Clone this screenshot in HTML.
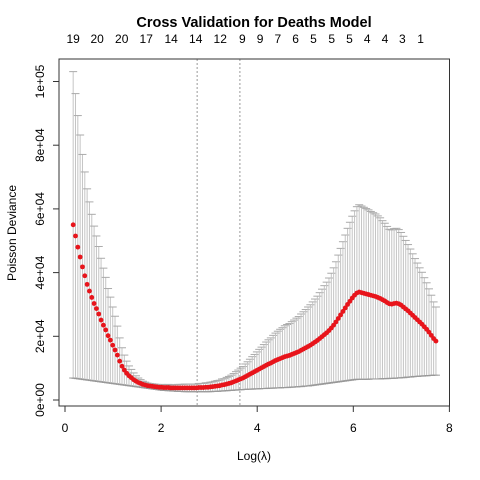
<!DOCTYPE html>
<html><head><meta charset="utf-8">
<style>
html,body{margin:0;padding:0;background:#fff;}
svg{display:block;font-family:"Liberation Sans",sans-serif;}
</style></head>
<body>
<svg id="chart" width="480" height="480" viewBox="0 0 480 480" xmlns="http://www.w3.org/2000/svg">
<text x="254" y="27" text-anchor="middle" font-weight="bold" font-size="14.5">Cross Validation for Deaths Model</text>
<text x="254" y="460" text-anchor="middle" font-size="12">Log(λ)</text>
<text transform="translate(16,233) rotate(-90)" text-anchor="middle" font-size="12">Poisson Deviance</text>
<g id="marks"></g>
<rect x="59" y="59" width="390.5" height="347" fill="none" stroke="#333" stroke-width="1"/>
</svg>
<script>
const xStart = 0.17, xEnd = 7.72;
const meanK = [55,51.5,48,44.9,41.8,39,36.3,34.2,32.2,30.3,28.7,27,25.1,23.5,22,20.2,18.8,17.2,15.7,14.1,12.2,10.6,9.4,8.4,7.6,7.0,6.4,5.9,5.5,5.2,4.9,4.7,4.5,4.4,4.3,4.2,
4.1,4.0,4.0,3.9,3.9,3.9,3.8,3.8,3.8,3.8,3.8,3.8,3.8,3.8,3.8,3.8,3.8,3.8,3.9,3.9,3.9,4.0,4.0,4.1,4.2,
4.3,4.4,4.5,4.7,4.8,5.0,5.2,5.4,5.7,6.0,6.3,6.6,6.9,7.3,7.7,8.1,8.5,8.9,9.3,9.7,10.1,10.5,10.9,11.3,11.6,12.0,12.4,12.7,13.0,13.3,13.6,13.8,14.0,14.3,14.6,14.9,15.2,15.6,16.0,16.4,16.8,17.2,17.7,18.2,18.7,19.3,19.9,20.5,21.1,21.8,22.6,23.5,24.5,25.6,26.7,27.8,28.9,30.0,31.0,32.0,32.9,33.6,33.9,33.7,33.5,33.3,33.1,32.9,32.7,32.5,32.2,31.9,31.5,31.1,30.6,30.2,30.1,30.3,30.4,30.2,29.8,29.2,28.6,28.0,27.3,26.6,25.9,25.2,24.5,23.8,23.0,22.2,21.3,20.3,19.3,18.5];
const lowerK = [6.9,6.8,6.7,6.6,6.5,6.4,6.3,6.2,6.1,6.0,5.9,5.8,5.7,5.6,5.5,5.4,5.3,5.2,5.1,5.0,4.9,4.8,4.7,4.6,4.5,4.4,4.3,4.2,4.1,4.0,3.9,3.8,3.7,3.6,3.5,3.4,
3.3,3.2,3.1,3.0,3.0,2.9,2.9,2.8,2.8,2.7,2.7,2.7,2.6,2.6,2.6,2.6,2.6,2.6,2.6,2.6,2.6,2.6,2.6,2.6,2.7,
2.7,2.7,2.8,2.8,2.9,2.9,3.0,3.0,3.1,3.1,3.2,3.2,3.3,3.3,3.4,3.4,3.4,3.5,3.5,3.5,3.6,3.6,3.6,3.7,3.7,
3.7,3.8,3.8,3.8,3.9,3.9,3.9,4.0,4.0,4.1,4.1,4.2,4.2,4.3,4.4,4.4,4.5,4.6,4.7,4.8,4.9,5.0,5.1,5.2,5.3,5.4,5.5,5.6,5.7,5.8,5.9,6.0,6.1,6.2,6.3,
6.4,6.5,6.5,6.5,6.5,6.5,6.5,6.6,6.6,6.6,6.6,6.6,6.7,6.7,6.7,6.8,6.8,6.8,6.9,6.9,7.0,7.0,7.1,7.2,7.2,7.3,7.4,7.4,7.5,7.5,7.6,7.6,7.7,7.7,7.8,7.8];
const xTicks = [0,2,4,6,8];
const yTicks = [0,20000,40000,60000,80000,100000];
const yTickLabels = ["0e+00","2e+04","4e+04","6e+04","8e+04","1e+05"];
const topLabels = ["19","20","20","17","14","14","12","9","9","7","6","5","5","5","4","4","3","1"];
const topPositions = [0.17,0.67,1.18,1.69,2.21,2.72,3.23,3.69,4.06,4.43,4.80,5.17,5.55,5.92,6.29,6.66,7.02,7.40];
const refLines = [2.75,3.64];

const NS = "http://www.w3.org/2000/svg";
const X = v => 65 + v * 48.05;
const Y = v => 400 - v * 0.003185;
const svg = document.getElementById('chart');
const g = document.getElementById('marks');
function mk(tag, attrs, parent, text){
  const e = document.createElementNS(NS, tag);
  for (const k in attrs) e.setAttribute(k, attrs[k]);
  if (text !== undefined) e.textContent = text;
  (parent || g).appendChild(e);
  return e;
}
const n = meanK.length;
const xs = meanK.map((_, i) => xStart + (xEnd - xStart) * i / (n - 1));

refLines.forEach(v => {
  const l = mk('line', {x1:X(v), x2:X(v), y1:59, y2:406, stroke:'#999', 'stroke-width':1, 'stroke-dasharray':'2,2'});
  
  
});
for (let i = 0; i < n; i++) {
  const m = meanK[i]*1000, lo = lowerK[i]*1000, up = 2*m - lo;
  const x = X(xs[i]);
  const bar = mk('line', {x1:x, x2:x, y1:Y(up), y2:Y(lo), stroke:'#c4c4c4', 'stroke-width':1});
  
  
  const c1 = mk('line', {x1:x-4, x2:x+4, y1:Y(up), y2:Y(up), stroke:'#aaa', 'stroke-width':1});
  
  
  const c2 = mk('line', {x1:x-4, x2:x+4, y1:Y(lo), y2:Y(lo), stroke:'#999', 'stroke-width':1});
  
  
}
for (let i = 0; i < n; i++) {
  const p = mk('circle', {cx:X(xs[i]), cy:Y(meanK[i]*1000), r:2.4, fill:'#e8141b'});
  
  
}
xTicks.forEach(v => {
  const t = mk('line', {x1:X(v), x2:X(v), y1:406, y2:412, stroke:'#333'}, svg);
  
  
  const l = mk('text', {x:X(v), y:432, 'text-anchor':'middle', 'font-size':12}, svg, String(v));
  
  
});
yTicks.forEach((v, i) => {
  const t = mk('line', {x1:53, x2:59, y1:Y(v), y2:Y(v), stroke:'#333'}, svg);
  
  
  const l = mk('text', {transform:`translate(44,${Y(v)}) rotate(-90)`, 'text-anchor':'middle', 'font-size':12}, svg, yTickLabels[i]);
  
  
});
topLabels.forEach((s, i) => {
  const l = mk('text', {x:X(topPositions[i]), y:43, 'text-anchor':'middle', 'font-size':12}, svg, s);
  
  
});
</script>
</body></html>
